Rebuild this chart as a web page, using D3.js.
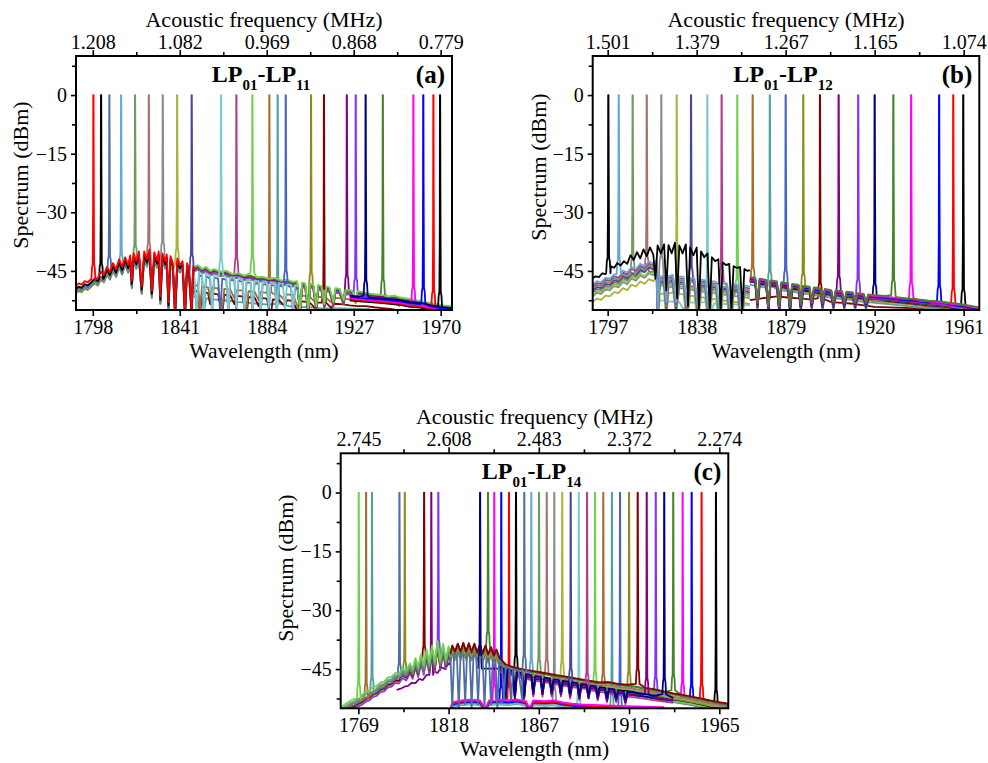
<!DOCTYPE html>
<html>
<head>
<meta charset="utf-8">
<script src="https://cdn.jsdelivr.net/npm/d3@7"></script>
<style>
  body { margin: 0; background: #fff; }
  svg { display: block; }
  text { font-family: "Liberation Serif", "Times New Roman", serif; fill: #000; }
</style>
</head>
<body>
<div id="chart"></div>
<script>
// ---- data ----
const yMajorTicks = [0, -15, -30, -45];

// panel (a) LP01-LP11
const aWlTicks = [1798, 1841, 1884, 1927, 1970];
const aFreqLabels = ['1.208', '1.082', '0.969', '0.868', '0.779'];
const aPeaks = [1798.3, 1802.1, 1806.2, 1812.0, 1818.9, 1825.7, 1832.6, 1839.7, 1846.9, 1861.4, 1869.0, 1876.9,
	1885.3, 1889.4, 1893.4, 1905.9, 1912.3, 1923.6, 1928.0, 1932.9, 1941.4, 1956.5, 1961.4, 1966.4, 1969.7];
const aColors = ['#ff0000', '#000000', '#4f6ea8', '#63a8d6', '#6e9c5e', '#a8706e', '#8c8c8c', '#a8b43c', '#46469e', '#78cccc',
	'#b43c8c', '#6ed24a', '#a86e28', '#50a0a0', '#4664c8', '#8c8c1e', '#820000', '#820082', '#8232ff', '#000082',
	'#468228', '#ff00ff', '#0000ff', '#ff0000', '#000000'];
const aFloorKey = ['aLeft', 'aLeft', 'aLeft', 'aLeft', 'aLeft', 'aLeft', 'aLeft', 'aLeft', 'aLeft', 'aDips',
	'aTop', 'aTop', 'aBrown', 'aTeal', 'aDips', 'aTop', 'aBrown', 'aTop', 'aTop', 'aEnd',
	'aTop', 'aEnd', 'aEnd', 'aEnd', 'aEnd'];
const aShift = [0, -0.8, -1.2, -1.6, -1.4, -1.8, -1.5, -2, -1.7, -0.3, -0.6, 0, 0, 0, -1, -1.2, -1.5, -0.4, -0.9, 0,
	-0.2, -0.6, -0.3, -0.9, -1.2];

const aLeft = [[1789.7,-48.8],[1791,-48.2],[1792.5,-48.5],[1794,-47.6],[1795.5,-47.9],[1797,-47.2],[1799,-46.2],[1800.5,-46.8],
	[1802,-45.2],[1803.5,-46],[1805,-44],[1806.5,-45.3],[1808,-43],[1809.5,-44.6],[1811,-42],[1812.5,-44],[1814,-41.5],
	[1815.5,-43.5],[1816.5,-41],[1817.3,-47.5],[1818.2,-40.5],[1819.5,-42.5],[1820.8,-40],[1822.2,-49],[1823.4,-40],
	[1824.8,-42],[1826,-39.5],[1827.2,-50],[1828.4,-40.2],[1829.8,-42.3],[1830.6,-40],[1831.4,-51.5],[1832.4,-40.5],
	[1833.8,-42.5],[1834.6,-40.8],[1835.4,-53],[1836.4,-41.2],[1837.6,-43],[1838.7,-55],[1839.8,-41.8],[1841,-43.5],
	[1842.4,-42.5],[1843.6,-55],[1844.6,-43],[1845.6,-44.5],[1846.9,-55],[1847.6,-43.8],[1848.2,-44.2]];
const aTop = [[1848,-44],[1850,-43.5],[1852,-44.5],[1854,-44],[1856,-45],[1858,-44.5],[1861,-45.2],[1864,-45],[1867,-45.8],
	[1870,-45.6],[1873,-46.2],[1876,-46],[1879,-46.6],[1882,-46.5],[1885,-47],[1888,-46.8],[1891,-47.4],[1894,-47.3],
	[1897,-47.8],[1899,-47.6],[1900.5,-55],[1901.5,-48],[1903,-48.2],[1904.5,-55],[1905.5,-48.3],[1907,-48.5],[1908.5,-54],
	[1909.5,-48.6],[1911,-48.9],[1912.5,-53.5],[1913.5,-49],[1915,-49.2],[1917,-53],[1918,-49.4],[1920,-49.6],[1922,-52.5],
	[1923,-49.8],[1926,-50],[1928,-52],[1929,-50.2],[1932,-50.4],[1935,-50.8],[1938,-51],[1941,-51.2],[1944,-51.5],
	[1947,-51.3],[1950,-51.8],[1953,-52],[1956,-52.3],[1959,-52.6],[1962,-53],[1965,-53.2],[1968,-53.5],[1971,-53.8],[1975.6,-54]];
const aDips = [[1848,-45],[1849.5,-55],[1850.5,-45],[1852,-45.5],[1853,-55],[1854,-45.3],[1856,-46],[1857,-55],[1858,-45.8],
	[1860,-46],[1861,-55],[1862,-46],[1864,-46.3],[1865,-55],[1866,-46.3],[1868,-46.5],[1869,-54],[1870,-46.5],[1872,-46.8],
	[1873,-55],[1874,-47],[1876,-47],[1877,-55],[1878,-47.2],[1880,-47.3],[1881,-55],[1882,-47.4],[1884,-47.5],[1885,-54],
	[1886,-47.6],[1888,-47.8],[1889,-55],[1890,-47.8],[1892,-48],[1893,-55],[1894,-48.2],[1896,-48.2],[1897,-55],[1898,-48.4],[1900,-48.5]];
const aBrown = [[1848,-49],[1850,-48.5],[1851,-55],[1852,-49],[1855,-49.2],[1856,-52],[1857,-49.3],[1860,-49.5],[1862,-55],
	[1863,-49.6],[1866,-49.8],[1868,-52],[1869,-49.9],[1872,-50],[1874,-55],[1875,-50.2],[1878,-50.3],[1880,-52.5],[1881,-50.4],
	[1884,-50.6],[1886,-55],[1887,-50.8],[1890,-51],[1893,-52.5],[1894,-51],[1897,-51.2],[1900,-55],[1901,-51.3],[1905,-51.5],
	[1908,-53],[1909,-51.6],[1913,-51.8],[1916,-53],[1917,-51.9],[1921,-52],[1925,-52.3],[1929,-52.5],[1933,-52.5],[1937,-52.8],
	[1941,-53],[1945,-53.2],[1948,-53.5],[1950,-54]];
const aTeal = [[1848,-51.5],[1852,-52],[1853,-55],[1854,-52],[1858,-52.3],[1862,-52.5],[1866,-52.7],[1870,-53],[1875,-53.2],
	[1880,-53.4],[1885,-53.6],[1890,-53.8],[1895,-54],[1900,-54.2],[1905,-54.3],[1910,-54.5],[1920,-54.6],[1935,-54.8]];
const aEnd = [[1925,-51.3],[1930,-51.6],[1935,-51.8],[1940,-52],[1945,-52.2],[1950,-52.5],[1955,-53],[1960,-53.2],
	[1965,-53.8],[1970,-54.2],[1975.6,-54.5]];

// panel (b) LP01-LP12
const bWlTicks = [1797, 1838, 1879, 1920, 1961];
const bFreqLabels = ['1.501', '1.379', '1.267', '1.165', '1.074'];
const bPeaks = [1797.3, 1802.1, 1808.5, 1815.0, 1821.7, 1828.8, 1835.4, 1842.9, 1849.5, 1856.7, 1863.8, 1871.7,
	1879.0, 1887.1, 1894.8, 1903.4, 1912.4, 1920.0, 1928.6, 1936.8, 1949.7, 1956.2, 1960.8];
const bColors = ['#000000', '#63a8d6', '#6e9c5e', '#a8706e', '#8c8c8c', '#a8b43c', '#46469e', '#78cccc', '#b43c8c', '#6ed24a',
	'#a86e28', '#50a0a0', '#4664c8', '#8c8c1e', '#820000', '#820082', '#8232ff', '#000082', '#468228', '#ff00ff',
	'#0000ff', '#ff0000', '#000000'];
const bFloorKey = ['bBlack', 'bLeft', 'bLeft', 'bLeft', 'bLeft', 'bLeft', 'bLeft', 'bTeal', 'bLeft', 'bLeft',
	'bRight', 'bRight', 'bRight', 'bRight', 'bDarkRed', 'bRight', 'bRight', 'bRight', 'bRight', 'bRight',
	'bRight', 'bRight', 'bRight'];
const bShift = [0, 0, -1, -2, -3, -4.5, -1.5, 0, -0.5, -2.5, -1.5, -2, -0.8, -1, 0, -0.3, -0.6, -1.2, 0, -0.2, -0.5, -0.7, -0.9];

const bBlack = [[1790.1,-46.8],[1791.5,-46.4],[1793,-46.6],[1794.5,-45.6],[1796,-45.8],[1798.5,-43.8],[1800,-44.2],[1801.5,-43],
	[1803,-43.6],[1804.5,-42.5],[1806,-43.2],[1807.5,-41],[1809,-42.2],[1810.5,-40.2],[1812,-41.8],[1813.5,-39.5],[1815,-41.2],
	[1816.5,-39],[1818,-40.8],[1819,-47],[1820,-38.5],[1821.5,-40.5],[1823,-38.2],[1824,-50],[1825,-38.4],[1826.5,-40.5],
	[1828,-37.8],[1829,-52],[1830,-38.5],[1831.5,-40.5],[1833,-38.2],[1834,-54],[1835,-39],[1836.5,-41],[1838,-39],[1839,-55],
	[1840,-40],[1841.5,-41.5],[1843,-40.5],[1844,-55],[1845,-41.5],[1846.5,-42.5],[1848,-42],[1849,-55],[1850,-42.8],
	[1851.5,-43.5],[1853,-43.2],[1854,-55],[1855,-43.8],[1856.5,-44.2],[1858,-44],[1859,-55],[1860,-44.5],[1861.5,-45],[1862.5,-44.8]];
const bLeft = [[1790.1,-48.5],[1792,-47.6],[1794,-47.9],[1796,-46.8],[1798,-47],[1800,-45.9],[1802,-46.2],[1804,-44.9],
	[1806,-45.4],[1808,-44],[1810,-44.5],[1812,-43.2],[1814,-43.8],[1816,-42.6],[1818,-43.1],[1819.5,-42.2],[1820,-55],
	[1821,-46.5],[1823,-46.2],[1824,-53],[1825,-46.3],[1827,-46],[1828.5,-53],[1830,-46.4],[1832,-46.5],[1833.5,-54],
	[1835,-46.8],[1837,-47],[1838.5,-54],[1840,-47.2],[1842,-47.4],[1843.5,-55],[1845,-47.6],[1847,-47.8],[1848.5,-55],
	[1850,-48],[1852,-48.2],[1853.5,-55],[1855,-48.4],[1857,-48.5],[1858.5,-55],[1860,-48.7],[1862.5,-49]];
const bTeal = [[1820,-55],[1821,-52.5],[1825,-52.8],[1830,-53],[1832,-55],[1833,-53],[1838,-53.2],[1843,-53.3],[1845,-55],
	[1846,-53.3],[1852,-53.5],[1858,-53.6],[1862.5,-53.8]];
const bRight = [[1862.5,-46.5],[1865,-46.8],[1866,-53],[1867,-47],[1870,-47.3],[1871,-54],[1872,-47.4],[1875,-47.7],[1876,-54],
	[1877,-47.9],[1880,-48.2],[1881,-54],[1882,-48.3],[1885,-48.6],[1886,-53.5],[1887,-48.8],[1890,-49],[1891,-53],[1892,-49.2],
	[1895,-49.5],[1896,-53],[1897,-49.6],[1900,-49.9],[1901,-53],[1902,-50],[1905,-50.2],[1906,-53],[1907,-50.3],[1910,-50.5],
	[1911,-53],[1912,-50.7],[1915,-50.9],[1916,-53],[1917,-51],[1920,-51.2],[1925,-51.4],[1930,-51.7],[1935,-52],[1940,-52.3],
	[1945,-52.6],[1950,-52.8],[1955,-53.2],[1960,-53.5],[1965,-54],[1968.2,-54.3]];
const bDarkRed = [[1862.5,-52.5],[1868,-52],[1875,-51.5],[1880,-51.8],[1885,-52],[1890,-52.3],[1895,-52.6],[1900,-53],
	[1905,-53.2],[1910,-53.4],[1915,-53.8],[1920,-54.2],[1930,-54.4],[1940,-54.6],[1950,-54.6],[1968.2,-54.8]];

// panel (c) LP01-LP14
const cWlTicks = [1769, 1818, 1867, 1916, 1965];
const cFreqLabels = ['2.745', '2.608', '2.483', '2.372', '2.274'];
const cPeaks = [1769.2, 1773.2, 1776.4, 1791.3, 1794.2, 1804.7, 1808.6, 1812.4, 1835.1, 1839.4, 1842.8, 1846.6, 1850.8,
	1854.6, 1859.1, 1862.9, 1867.1, 1871.3, 1875.4, 1879.7, 1884.3, 1888.7, 1893.2, 1897.5, 1902.0, 1906.7, 1911.1,
	1916.0, 1920.7, 1925.6, 1930.5, 1935.1, 1940.0, 1945.1, 1950.0, 1955.4, 1963.2];
const cColors = ['#6ed24a', '#a86e28', '#50a0a0', '#4f6ea8', '#8c8c1e', '#820000', '#820082', '#8232ff', '#000082', '#468228',
	'#ff00ff', '#0000ff', '#ff0000', '#000000', '#4f6ea8', '#63a8d6', '#6e9c5e', '#a8706e', '#8c8c8c', '#a8b43c',
	'#46469e', '#78cccc', '#b43c8c', '#6ed24a', '#a86e28', '#50a0a0', '#4664c8', '#8c8c1e', '#820000', '#820082',
	'#8232ff', '#000082', '#468228', '#ff00ff', '#0000ff', '#ff0000', '#000000'];
const cFloorKey = ['cLeft', 'cLeft', 'cLeft', 'cLeft', 'cLeft', 'cLeft', 'cPurple', 'cLeft', 'cMid', 'cRight',
	'cLow', 'cLow', 'cLow', 'cRight', 'cDips', 'cRight', 'cRight', 'cRight', 'cLow', 'cRight',
	'cMid', 'cLow', 'cMid', 'cRight', 'cRight', 'cLow', 'cLow', 'cRight', 'cRight', 'cMid',
	'cEnd', 'cMid', 'cRight', 'cEnd', 'cEnd', 'cEnd', 'cEnd'];
const cShift = [0, -1, -0.6, -1.5, -2, -1.8, 0, -2.5, -0.4, -0.3, 0, -0.5, -0.3, -1.5, 0, -2, -1.2, -0.8, -0.8, -1,
	-0.5, -1, -1, -1.8, -2.2, -1.2, -0.6, -1.4, 0, -0.3, 0, 0.2, -0.2, -0.4, -0.8, -0.2, -1];

const cLeft = [[1759.4,-54.8],[1761,-54.2],[1763,-53.6],[1765,-53],[1767,-52.6],[1769,-52],[1771,-51.6],[1773,-50.8],
	[1775,-50.5],[1777,-49.6],[1779,-49.3],[1781,-48.4],[1783,-48.2],[1785,-47.2],[1787,-47],[1789,-46],[1791,-46.2],
	[1793,-44.8],[1795,-45.4],[1797,-43.6],[1798.5,-45],[1800,-42.2],[1801.5,-44.5],[1803,-41.2],[1804.5,-44],[1806,-40],
	[1807.5,-43.5],[1809,-39],[1810.5,-43.2],[1812,-37.8],[1813.5,-42.8],[1815,-38.5],[1816.5,-42.5],[1818,-39.2],[1819,-41]];
const cPurple = [[1789.8,-50.3],[1792,-50],[1794,-49.5],[1796,-49.3],[1798,-48.5],[1800,-48.6],[1802,-47.5],[1804,-47.8],
	[1806,-46.5],[1808,-47],[1810,-45.5],[1812,-46],[1814,-44.5],[1816,-45],[1818,-43.5],[1819,-44]];
const cRight = [[1819,-41],[1820,-39],[1821.5,-40.5],[1823,-38.5],[1824.5,-40.5],[1826,-38.3],[1827.5,-40.5],[1829,-38.4],
	[1830.5,-40.6],[1832,-38.5],[1833.5,-40.8],[1835,-38.7],[1836.5,-41],[1838,-39],[1839.5,-41.2],[1841,-39.4],
	[1842.5,-41.5],[1844,-40],[1845.5,-42],[1847,-42.8],[1849,-43.8],[1852,-44.3],[1856,-44.8],[1860,-45.2],[1865,-45.6],
	[1870,-46],[1875,-46.4],[1880,-46.8],[1885,-47.2],[1890,-47.6],[1895,-48],[1900,-48.4],[1905,-48.3],[1910,-48.8],
	[1915,-49],[1920,-49.3],[1925,-49.8],[1930,-50.2],[1935,-50.7],[1940,-51.2],[1945,-51.6],[1950,-52],[1955,-52.5],
	[1960,-53],[1965,-53.4],[1969.9,-53.8]];
const cDips = [[1819,-42],[1820,-55],[1821,-41],[1822.5,-41.5],[1823.5,-55],[1824.5,-41],[1826,-41.5],[1827,-54],[1828,-41.2],
	[1829.5,-41.8],[1830.5,-55],[1831.5,-41.5],[1833,-42],[1834,-54],[1835,-41.8],[1836.5,-42.3],[1837.5,-55],[1838.5,-42.2],
	[1840,-42.6],[1841,-54],[1842,-42.6],[1843.5,-43],[1844.5,-55],[1845.5,-43.2],[1847,-43.8],[1848,-53],[1849,-44.2],
	[1851,-44.6],[1852,-53],[1853,-45],[1856,-45.4],[1858,-53],[1859,-45.6],[1862,-45.8]];
const cMid = [[1845,-44.5],[1848,-45],[1849,-52],[1850,-45.3],[1853,-45.8],[1854,-52],[1855,-46],[1858,-46.3],[1859,-52],
	[1860,-46.5],[1863,-46.8],[1864,-51],[1865,-47],[1868,-47.2],[1869,-51],[1870,-47.4],[1873,-47.6],[1874,-51],[1875,-47.8],
	[1878,-48],[1879,-51],[1880,-48.2],[1883,-48.4],[1884,-51.5],[1885,-48.6],[1888,-48.8],[1889,-52],[1890,-49],[1893,-49.2],
	[1894,-52],[1895,-49.4],[1898,-49.6],[1899,-52],[1900,-49.8],[1903,-50],[1904,-52.5],[1905,-50.2],[1908,-50.4],[1909,-52.5],
	[1910,-50.6],[1913,-50.8],[1914,-53],[1915,-51],[1920,-51.3],[1925,-51.6],[1930,-52],[1935,-52.3],[1940,-52.6]];
const cLow = [[1819,-55],[1820,-53.5],[1825,-53],[1830,-52.8],[1835,-53],[1838,-55],[1840,-53],[1845,-52.8],[1850,-53],
	[1855,-52.7],[1860,-53.2],[1862,-55],[1864,-53],[1870,-53.2],[1875,-53],[1880,-53.5],[1885,-53.8],[1890,-54],
	[1900,-54.2],[1910,-54.4],[1920,-54.5],[1935,-54.7]];
const cEnd = [[1925,-51],[1930,-51.5],[1935,-52],[1940,-52.3],[1945,-52.5],[1950,-53],[1955,-53.3],[1960,-53.8],
	[1965,-54],[1969.9,-54.3]];

// shape of one laser line above the floor: offset in nm, rise in dB above the local floor
const peakDx = [-1.0, -0.7, -0.35, -0.16, -0.07, 0.07, 0.16, 0.35, 0.7, 1.0];
const peakRise = [0, 3, 4, 17, 99, 99, 31, 4, 3, 0];

const floors = { aLeft, aTop, aDips, aBrown, aTeal, aEnd, bBlack, bLeft, bTeal, bRight, bDarkRed,
	cLeft, cPurple, cRight, cDips, cMid, cLow, cEnd };

// ---- layout ----
const svg = d3.select('#chart').append('svg').attr('width', 988).attr('height', 763);

const panels = [
	{ id: 'a', left: 76, right: 452, top: 56, bottom: 310, domain: [1789.7, 1975.6],
		ticks: aWlTicks, freq: aFreqLabels, peaks: aPeaks, colors: aColors, keys: aFloorKey, shift: aShift,
		order: ['aTeal', 'aBrown', 'aTop', 'aDips', 'aEnd', 'aLeft'], sub1: '01', sub2: '11', yTitleY: 175, yTitleX: 28 },
	{ id: 'b', left: 592.7, right: 979.3, top: 56, bottom: 310, domain: [1790.1, 1968.2],
		ticks: bWlTicks, freq: bFreqLabels, peaks: bPeaks, colors: bColors, keys: bFloorKey, shift: bShift,
		order: ['bDarkRed', 'bTeal', 'bLeft', 'bRight', 'bBlack'], sub1: '01', sub2: '12', yTitleY: 167, yTitleX: 546 },
	{ id: 'c', left: 340.7, right: 728.3, top: 453.3, bottom: 708.3, domain: [1759.4, 1969.9],
		ticks: cWlTicks, freq: cFreqLabels, peaks: cPeaks, colors: cColors, keys: cFloorKey, shift: cShift,
		order: ['cLow', 'cEnd', 'cPurple', 'cLeft', 'cRight', 'cMid', 'cDips'], sub1: '01', sub2: '14', yTitleY: 568, yTitleX: 293 }
];

function tracePoints(floor, wl, shift) {
	const lo = wl + peakDx[0], hi = wl + peakDx[peakDx.length - 1];
	const before = floor.filter(p => p[0] < lo);
	const after = floor.filter(p => p[0] > hi);
	let base;
	if (before.length >= 2) base = Math.max(before[before.length - 1][1], before[before.length - 2][1]);
	else if (before.length) base = before[0][1];
	else base = after[0][1];
	base += shift;
	const pts = before.map(p => [p[0], p[1] + shift]);
	peakDx.forEach((dx, i) => pts.push([wl + dx, Math.min(0, base + peakRise[i])]));
	after.forEach(p => pts.push([p[0], p[1] + shift]));
	return pts;
}

panels.forEach(p => {
	const g = svg.append('g').attr('class', 'panel-' + p.id);
	const x = d3.scaleLinear().domain(p.domain).range([p.left, p.right]);
	const y = d3.scaleLinear().domain([-55, 10]).range([p.bottom, p.top]);

	const clipId = 'clip-' + p.id;
	svg.append('clipPath').attr('id', clipId).append('rect')
		.attr('x', p.left).attr('y', p.top).attr('width', p.right - p.left).attr('height', p.bottom - p.top);

	// traces, lower floors first
	const traces = p.peaks.map((wl, i) => ({ wl, color: p.colors[i], key: p.keys[i], shift: p.shift[i], i }));
	traces.sort((a, b) => (p.order.indexOf(a.key) - p.order.indexOf(b.key)) || (a.shift - b.shift) || (a.i - b.i));

	const line = d3.line().x(d => x(d[0])).y(d => y(d[1]));
	g.append('g').attr('clip-path', 'url(#' + clipId + ')')
		.selectAll('path').data(traces).enter().append('path')
		.attr('d', d => line(tracePoints(floors[d.key], d.wl, d.shift)))
		.attr('fill', 'none')
		.attr('stroke', d => d.color)
		.attr('stroke-width', 1.8)
		.attr('stroke-linejoin', 'round');

	// frame
	g.append('rect').attr('x', p.left).attr('y', p.top)
		.attr('width', p.right - p.left).attr('height', p.bottom - p.top)
		.attr('fill', 'none').attr('stroke', '#000').attr('stroke-width', 2);

	const minorX = d3.pairs(p.ticks).map(d => (d[0] + d[1]) / 2);
	const minorY = d3.range(-52.5, 10, 7.5).filter(v => yMajorTicks.indexOf(v) < 0);

	const styleAxis = sel => {
		sel.select('.domain').remove();
		sel.selectAll('line').attr('stroke', '#000').attr('stroke-width', 1.6);
		sel.selectAll('text').attr('font-size', 20).style('font-family', '"Liberation Serif", serif');
	};

	// bottom axis
	g.append('g').attr('transform', 'translate(0,' + p.bottom + ')')
		.call(d3.axisBottom(x).tickValues(p.ticks).tickSize(6).tickPadding(4).tickFormat(d3.format('d')))
		.call(styleAxis);
	g.append('g').attr('transform', 'translate(0,' + p.bottom + ')')
		.call(d3.axisBottom(x).tickValues(minorX).tickSize(4).tickFormat(''))
		.call(styleAxis);

	// top axis: acoustic frequency at the same positions
	g.append('g').attr('transform', 'translate(0,' + p.top + ')')
		.call(d3.axisTop(x).tickValues(p.ticks).tickSize(6).tickPadding(1).tickFormat((d, i) => p.freq[i]))
		.call(styleAxis);
	g.append('g').attr('transform', 'translate(0,' + p.top + ')')
		.call(d3.axisTop(x).tickValues(minorX).tickSize(4).tickFormat(''))
		.call(styleAxis);

	// left axis
	g.append('g').attr('transform', 'translate(' + p.left + ',0)')
		.call(d3.axisLeft(y).tickValues(yMajorTicks).tickSize(5).tickPadding(4).tickFormat(d3.format('d')))
		.call(styleAxis);
	g.append('g').attr('transform', 'translate(' + p.left + ',0)')
		.call(d3.axisLeft(y).tickValues(minorY).tickSize(4).tickFormat(''))
		.call(styleAxis);

	const cx = (p.left + p.right) / 2;

	// axis titles
	g.append('text').attr('x', cx).attr('y', p.top - 29.5).attr('text-anchor', 'middle')
		.attr('font-size', 22).text('Acoustic frequency (MHz)');
	g.append('text').attr('x', cx).attr('y', p.bottom + 47.5).attr('text-anchor', 'middle')
		.attr('font-size', 21.5).text('Wavelength (nm)');
	g.append('text').attr('transform', 'translate(' + p.yTitleX + ',' + p.yTitleY + ') rotate(-90)')
		.attr('text-anchor', 'middle').attr('font-size', 22).text('Spectrum (dBm)');

	// mode label
	const lab = g.append('text').attr('x', cx - 3).attr('y', p.top + 26).attr('text-anchor', 'middle')
		.attr('font-size', 24).attr('font-weight', 'bold');
	lab.append('tspan').text('LP');
	lab.append('tspan').attr('font-size', 15).attr('dy', 8).text(p.sub1);
	lab.append('tspan').attr('dy', -8).text('-LP');
	lab.append('tspan').attr('font-size', 15).attr('dy', 8).text(p.sub2);

	g.append('text').attr('x', p.right - 7).attr('y', p.top + 27).attr('text-anchor', 'end')
		.attr('font-size', 25).attr('font-weight', 'bold').text('(' + p.id + ')');
});
</script>
</body>
</html>
